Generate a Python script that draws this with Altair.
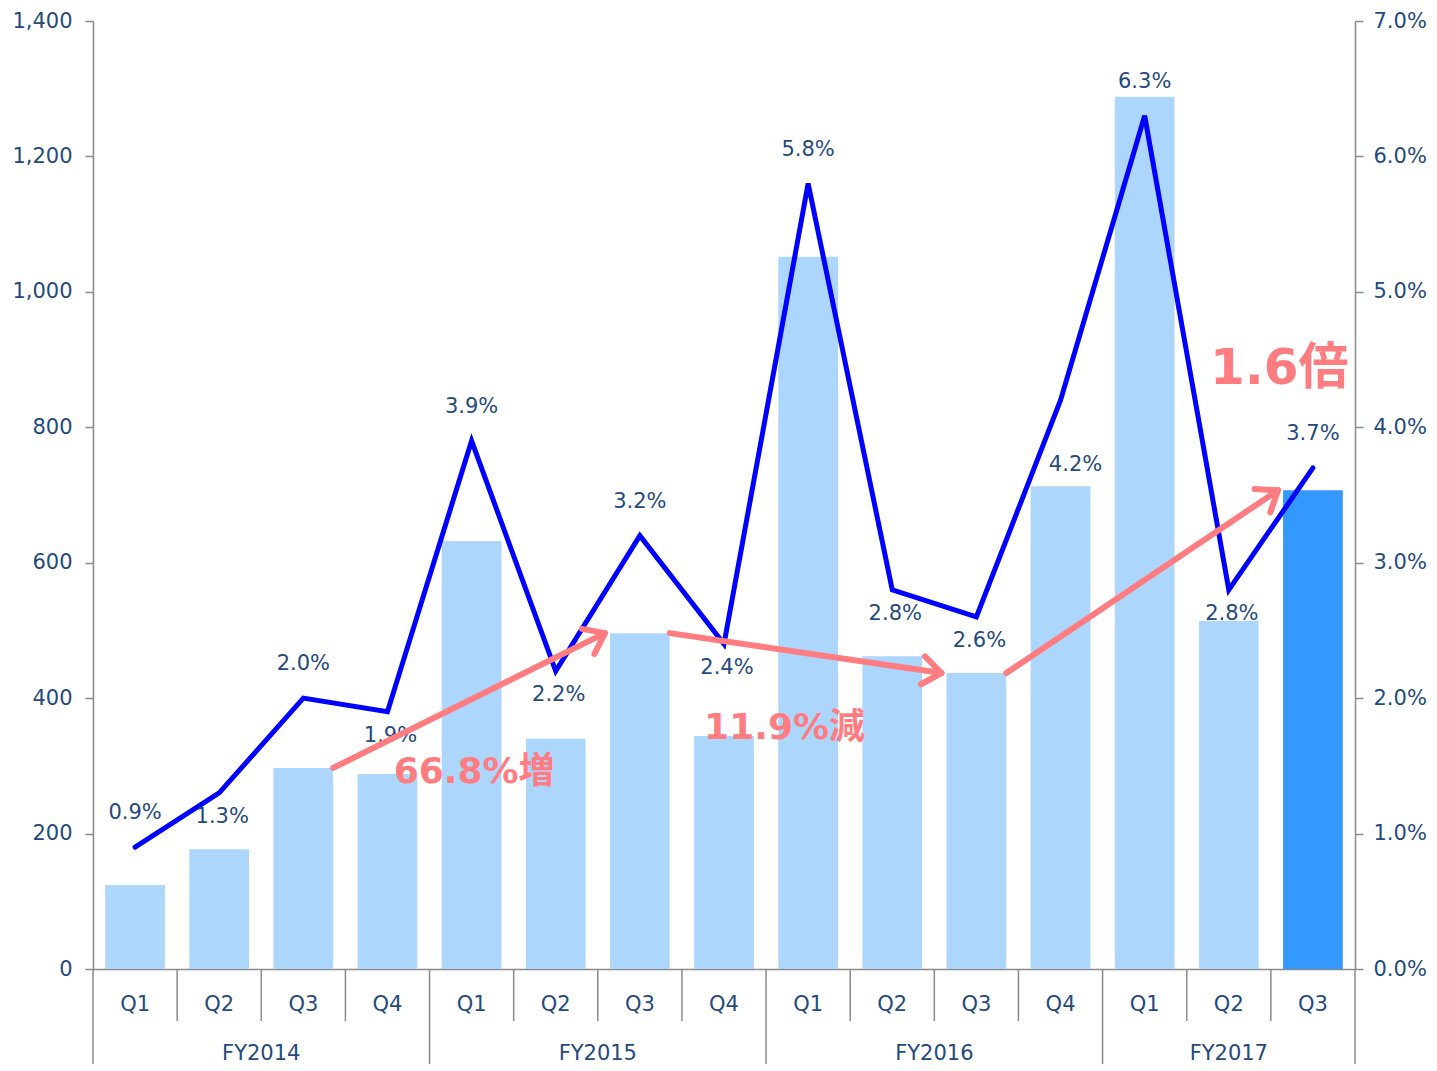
import math
import altair as alt
import pandas as pd

# ---------------- data ----------------
fiscal_years = ["FY2014"] * 4 + ["FY2015"] * 4 + ["FY2016"] * 4 + ["FY2017"] * 3
quarters = ["Q1", "Q2", "Q3", "Q4"] * 3 + ["Q1", "Q2", "Q3"]
bar_values = [124, 177, 297, 288, 632, 340, 496, 344, 1052, 462, 437, 713, 1288, 514, 707]
rate_values = [0.9, 1.3, 2.0, 1.9, 3.9, 2.2, 3.2, 2.4, 5.8, 2.8, 2.6, 4.2, 6.3, 2.8, 3.7]
label_place = ["above", "below", "above", "below", "above", "below", "above", "below",
               "above", "below", "below", "below_far", "above", "below", "above"]
left_ticks = [0, 200, 400, 600, 800, 1000, 1200, 1400]
right_ticks = [0, 1, 2, 3, 4, 5, 6, 7]

arrow_from = [2, 6, 10]
arrow_to = [6, 10, 14]
annot_text = ["66.8%増", "11.9%減", "1.6倍"]
annot_x = [4.53, 8.22, 14.10]      # in quarter-slot units
annot_y = [291, 356, 886]          # in left-axis units
annot_big = [False, False, True]

# ---------------- styling ----------------
W, H = 1262, 948
N = len(bar_values)
PI = 0.29
PO = PI / 2
FONT = "DejaVu Sans, Noto Sans CJK JP"
FS = 21
TXT = "#254A7C"
GRAY = "#8A8A8A"
RED = "#FF7C80"
LIGHT = "#ADD6FD"
DARK = "#3399FF"

keys = [f"{fy}-{q}" for fy, q in zip(fiscal_years, quarters)]
df = pd.DataFrame({
    "key": keys,
    "fy": fiscal_years,
    "q": quarters,
    "sales": bar_values,
    "rate": rate_values,
    "place": label_place,
    "label": [f"{v:.1f}%" for v in rate_values],
    "kind": ["past"] * (N - 1) + ["current"],
})

band = alt.Scale(paddingInner=PI, paddingOuter=PO)
x_axis = alt.Axis(labelExpr="split(datum.label, '-')[1]", ticks=False,
                  labelPadding=24, labelAngle=0, domainColor=GRAY, domainWidth=1.5,
                  labelFont=FONT, labelFontSize=FS, labelColor=TXT, title=None)
x_band = alt.X("key:N", sort=keys, scale=band, axis=x_axis)

left_axis = alt.Axis(values=left_ticks, format=",.0f", orient="left", grid=False,
                     tickSize=8, tickColor=GRAY, tickWidth=1.5,
                     domainColor=GRAY, domainWidth=1.5, labelPadding=13,
                     labelFont=FONT, labelFontSize=FS, labelColor=TXT, title=None)
right_axis = alt.Axis(values=right_ticks, orient="right", grid=False,
                      labelExpr="format(datum.value, '.1f') + '%'",
                      tickSize=8, tickColor=GRAY, tickWidth=1.5,
                      domainColor=GRAY, domainWidth=1.5, labelPadding=10,
                      labelFont=FONT, labelFontSize=FS, labelColor=TXT, title=None)

bars = alt.Chart(df).mark_bar().encode(
    x=x_band,
    y=alt.Y("sales:Q", scale=alt.Scale(domain=[0, 1400], nice=False), axis=left_axis),
    color=alt.Color("kind:N", scale=alt.Scale(domain=["past", "current"], range=[LIGHT, DARK]),
                    legend=None),
)

y_rate = alt.Y("rate:Q", scale=alt.Scale(domain=[0, 7], nice=False), axis=right_axis)

line = alt.Chart(df).mark_line(color="#0000FF", strokeWidth=5, strokeCap="round").encode(
    x=x_band, y=y_rate)

def labels(place, dx, dy):
    return alt.Chart(df).transform_filter(alt.datum.place == place).mark_text(
        dx=dx, dy=dy, fontSize=FS, font=FONT, color=TXT, baseline="middle"
    ).encode(x=x_band, y=y_rate, text="label:N")

rate_layer = alt.layer(line, labels("above", 0, -34), labels("below", 3, 24),
                       labels("below_far", 15, 65))

main = alt.layer(bars, rate_layer).resolve_scale(y="independent")

# ---------------- chrome: category separators & FY labels ----------------
fy_order = []
for fy in fiscal_years:
    if fy not in fy_order:
        fy_order.append(fy)
fy_start = {fy: fiscal_years.index(fy) for fy in fy_order}
fy_count = {fy: fiscal_years.count(fy) for fy in fy_order}
long_pos = [fy_start[fy] for fy in fy_order] + [N]
short_pos = [i for i in range(N) if i not in long_pos]

xq = alt.Scale(domain=[0, N], nice=False, zero=False)
yq = alt.Scale(domain=[0, 1400], nice=False)

sep_short = alt.Chart(pd.DataFrame({"pos": short_pos})).mark_rule(
    color=GRAY, strokeWidth=1.5).encode(
    x=alt.X("pos:Q", scale=xq, axis=None), y=alt.value(H), y2=alt.value(H + 52))
sep_long = alt.Chart(pd.DataFrame({"pos": long_pos})).mark_rule(
    color=GRAY, strokeWidth=1.5).encode(
    x=alt.X("pos:Q", scale=xq, axis=None), y=alt.value(H), y2=alt.value(H + 95))

fy_df = pd.DataFrame({
    "fy": fy_order,
    "mid": [fy_start[fy] + fy_count[fy] / 2 for fy in fy_order],
})
fy_text = alt.Chart(fy_df).mark_text(fontSize=FS, font=FONT, color=TXT, baseline="middle").encode(
    x=alt.X("mid:Q", scale=xq, axis=None), y=alt.value(H + 85), text="fy:N")

# ---------------- arrows ----------------
step_px = W / N
rows = []
for a, b in zip(arrow_from, arrow_to):
    x1 = a + 1 - PO
    x2 = b + PO - 0.06
    y1 = bar_values[a]
    y2 = bar_values[b]
    dxp = (x2 - x1) * step_px
    dyp = -(y2 - y1) * H / 1400
    ang = math.degrees(math.atan2(dyp, dxp)) % 360
    rows.append({"x1": x1, "x2": x2, "y1": y1, "y2": y2, "ang": ang})
arr_df = pd.DataFrame(rows)

arrow_line = alt.Chart(arr_df).mark_rule(color=RED, strokeWidth=6, strokeCap="round").encode(
    x=alt.X("x1:Q", scale=xq, axis=None), x2="x2:Q",
    y=alt.Y("y1:Q", scale=yq, axis=None), y2="y2:Q")
arrow_head = alt.Chart(arr_df).mark_point(
    shape="M-1,-0.75L0,0L-1,0.75", filled=False, size=1400, strokeWidth=6,
    color=RED, opacity=1, strokeCap="round", strokeJoin="round").encode(
    x=alt.X("x2:Q", scale=xq, axis=None),
    y=alt.Y("y2:Q", scale=yq, axis=None),
    angle=alt.Angle("ang:Q", scale=None))

ann_df = pd.DataFrame({"t": annot_text, "x": annot_x, "y": annot_y, "big": annot_big})
ann_small = alt.Chart(ann_df).transform_filter(~alt.datum.big).mark_text(
    fontSize=36, fontWeight="bold", font=FONT, color=RED, baseline="middle").encode(
    x=alt.X("x:Q", scale=xq, axis=None), y=alt.Y("y:Q", scale=yq, axis=None), text="t:N")
ann_big = alt.Chart(ann_df).transform_filter(alt.datum.big).mark_text(
    fontSize=50, fontWeight="bold", font=FONT, color=RED, baseline="middle").encode(
    x=alt.X("x:Q", scale=xq, axis=None), y=alt.Y("y:Q", scale=yq, axis=None), text="t:N")

chrome = alt.layer(sep_short, sep_long, fy_text, arrow_line, arrow_head, ann_small, ann_big)

chart = alt.layer(main, chrome).resolve_scale(x="independent", y="independent").properties(
    width=W, height=H,
    padding={"left": 3, "top": 2, "right": 0, "bottom": 0},
).configure_view(stroke=None)

chart.save("out.html", embed_options={"renderer": "svg", "actions": False})
